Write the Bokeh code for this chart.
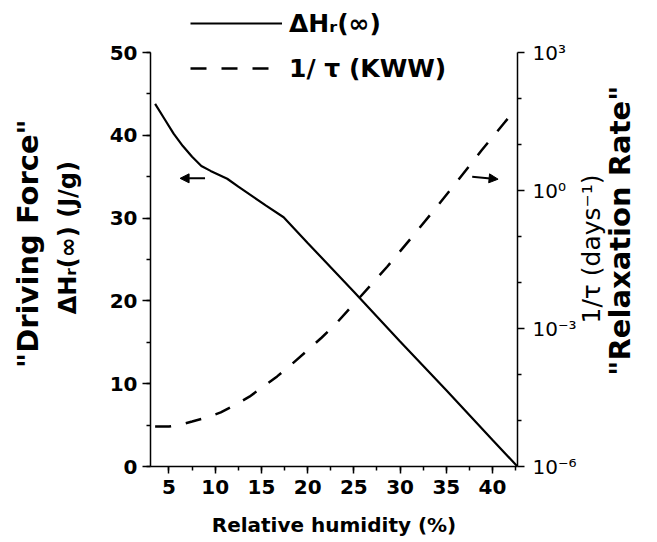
import math
from bokeh.plotting import figure
from bokeh.models import (Range1d, LinearAxis, LogAxis, LogScale, SingleIntervalTicker,
                          FixedTicker, CustomJSTickFormatter, Legend, LegendItem, Arrow,
                          NormalHead)
from bokeh.embed import file_html
from bokeh.resources import INLINE

# ---- data ----
humidity_dh = [3.5, 4.5, 5.5, 6.5, 7.5, 8.5, 9.5, 11.3, 12.5, 14.2, 15.5, 17.4,
               20, 25, 30, 35, 40, 42.7]
driving_force = [43.8, 42.0, 40.2, 38.7, 37.4, 36.3, 35.7, 34.75, 33.8, 32.5, 31.5, 30.1,
                 27.0, 21.1, 15.1, 9.2, 3.2, 0.0]

humidity_rate = [3.5, 5, 6, 7.5, 9, 10.6, 12, 13.7, 15, 16.7, 18, 19.8, 21.5, 23,
                 25.7, 28.6, 31.3, 33.8, 36.3, 38.8, 41.3, 42.2]
relaxation_rate = [7.4e-6, 7.4e-6, 7.9e-6, 9.5e-6, 1.15e-5, 1.5e-5, 2.1e-5, 3.3e-5,
                   5.1e-5, 9.1e-5, 1.5e-4, 3.1e-4, 6.3e-4, 1.23e-3, 4.9e-3, 2.2e-2,
                   9.8e-2, 0.40, 1.7, 7.4, 30, 50]

rate_ticks = [1e-6, 1e-3, 1.0, 1e3]
rate_tick_labels = ["10⁻⁶", "10⁻³", "10⁰", "10³"]
rate_minor_ticks = [1e-5, 1e-4, 1e-2, 1e-1, 10, 100]

# arrows pointing to each curve's axis (x start, x end, y start, y end) in left-axis units
arrow_left = [8.9, 6.2, 34.8, 34.8]
arrow_right = [37.8, 40.6, 35.0, 34.7]

FONT = "DejaVu Sans"
NB = "\u00a0"

# The frame reaches the top of the canvas (so the legend above the axes is not clipped);
# the axes themselves are bounded to 0..50 and 1e-6..1e3.
FRAME_H = 466
AXIS_PX = 414
y_top = 50 * FRAME_H / AXIS_PX
log_top = 10 ** (-6 + 9 * FRAME_H / AXIS_PX)

p = figure(width=657, height=542, min_border_left=150, min_border_right=140,
           min_border_top=0, min_border_bottom=76,
           x_range=Range1d(3, 42.7), y_range=Range1d(0, y_top),
           x_axis_type=None, y_axis_type=None,
           output_backend="svg", toolbar_location=None)
p.outline_line_color = None
p.xgrid.visible = False
p.ygrid.visible = False
p.background_fill_color = "white"
p.border_fill_color = "white"

p.extra_y_ranges = {"rate": Range1d(1e-6, log_top)}
p.extra_y_scales = {"rate": LogScale()}


def style_axis(ax, tick_out=8, minor_out=4):
    ax.axis_line_color = "black"
    ax.axis_line_width = 1.5
    ax.major_tick_line_color = "black"
    ax.major_tick_line_width = 1.5
    ax.minor_tick_line_color = "black"
    ax.minor_tick_line_width = 1.5
    ax.major_tick_in = 0
    ax.major_tick_out = tick_out
    ax.minor_tick_in = 0
    ax.minor_tick_out = minor_out
    ax.major_label_text_font = FONT
    ax.major_label_text_font_size = "20px"
    ax.major_label_text_font_style = "bold"
    ax.major_label_text_color = "black"
    ax.axis_label_text_font = FONT
    ax.axis_label_text_font_style = "bold"
    ax.axis_label_text_color = "black"


def bare_axis(ax):
    style_axis(ax, 0, 0)
    ax.axis_line_color = None
    ax.major_tick_line_color = None
    ax.minor_tick_line_color = None
    ax.major_label_standoff = 0


def right_label(ax, text, pad):
    """Right-side title reading bottom-to-top, like the reference."""
    try:
        ax.axis_label_orientation = math.pi / 2
        ax.axis_label_align = "start"
        ax.axis_label = NB * pad + text
    except Exception:
        ax.axis_label_orientation = "parallel"
        ax.axis_label = text


# bottom axis
xax = LinearAxis(ticker=SingleIntervalTicker(interval=5, num_minor_ticks=2),
                 axis_label="Relative humidity (%)")
style_axis(xax, 7, 4)
xax.major_label_standoff = 6
xax.axis_label_standoff = 16
xax.axis_label_text_font_size = "20px"
p.add_layout(xax, "below")

# left axis
yax = LinearAxis(ticker=SingleIntervalTicker(interval=10, num_minor_ticks=2),
                 axis_label="ΔHᵣ(∞)  (J/g)", bounds=(0, 50))
style_axis(yax, 8, 4)
yax.major_label_standoff = 5
yax.axis_label_standoff = 25
yax.axis_label_text_font_size = "24px"
p.add_layout(yax, "left")

outer = LinearAxis(ticker=FixedTicker(ticks=[]), axis_label='"Driving Force"' + NB * 2,
                   bounds=(0, 50))
bare_axis(outer)
outer.axis_label_standoff = 6
outer.axis_label_text_font_size = "29px"
p.add_layout(outer, "left")

# right log axis
rax = LogAxis(y_range_name="rate", bounds=(1e-6, 1e3),
              ticker=FixedTicker(ticks=rate_ticks, minor_ticks=rate_minor_ticks),
              formatter=CustomJSTickFormatter(
                  args=dict(vals=rate_ticks, labs=rate_tick_labels),
                  code="""
const i = vals.findIndex(v => Math.abs(Math.log10(v) - Math.log10(tick)) < 1e-6);
return i >= 0 ? labs[i] : "";
"""))
style_axis(rax, 7, 4)
rax.major_label_text_font_style = "normal"
rax.major_label_standoff = 8
rax.axis_label_text_font_style = "normal"
rax.axis_label_text_font_size = "25px"
rax.axis_label_standoff = 12
right_label(rax, "1/τ  (days⁻¹)", 18)
p.add_layout(rax, "right")

router = LinearAxis(ticker=FixedTicker(ticks=[]), bounds=(0, 50))
bare_axis(router)
router.axis_label_standoff = -4
router.axis_label_text_font_size = "29px"
right_label(router, '"Relaxation Rate"', 9)
p.add_layout(router, "right")

# curves
r1 = p.line(humidity_dh, driving_force, line_color="black", line_width=2.2)
r2 = p.line(humidity_rate, relaxation_rate, y_range_name="rate", line_color="black",
            line_width=2.5, line_dash="16 15")

# arrows
for a in (arrow_left, arrow_right):
    p.add_layout(Arrow(end=NormalHead(size=9, fill_color="black", line_color="black"),
                       x_start=a[0], x_end=a[1], y_start=a[2], y_end=a[3],
                       line_color="black", line_width=2))

# legend above the axes
legend = Legend(items=[LegendItem(label="ΔHᵣ(∞)", renderers=[r1]),
                       LegendItem(label="1/ τ (KWW)", renderers=[r2])],
                location=(40, FRAME_H - 7 - 77), glyph_width=92, glyph_height=32,
                label_height=32, spacing=13, padding=0, margin=0, label_standoff=7,
                border_line_color=None, background_fill_alpha=0,
                label_text_font=FONT, label_text_font_size="25px",
                label_text_font_style="bold", label_text_color="black")
p.add_layout(legend)

open("out.html", "w").write(file_html(p, INLINE))
